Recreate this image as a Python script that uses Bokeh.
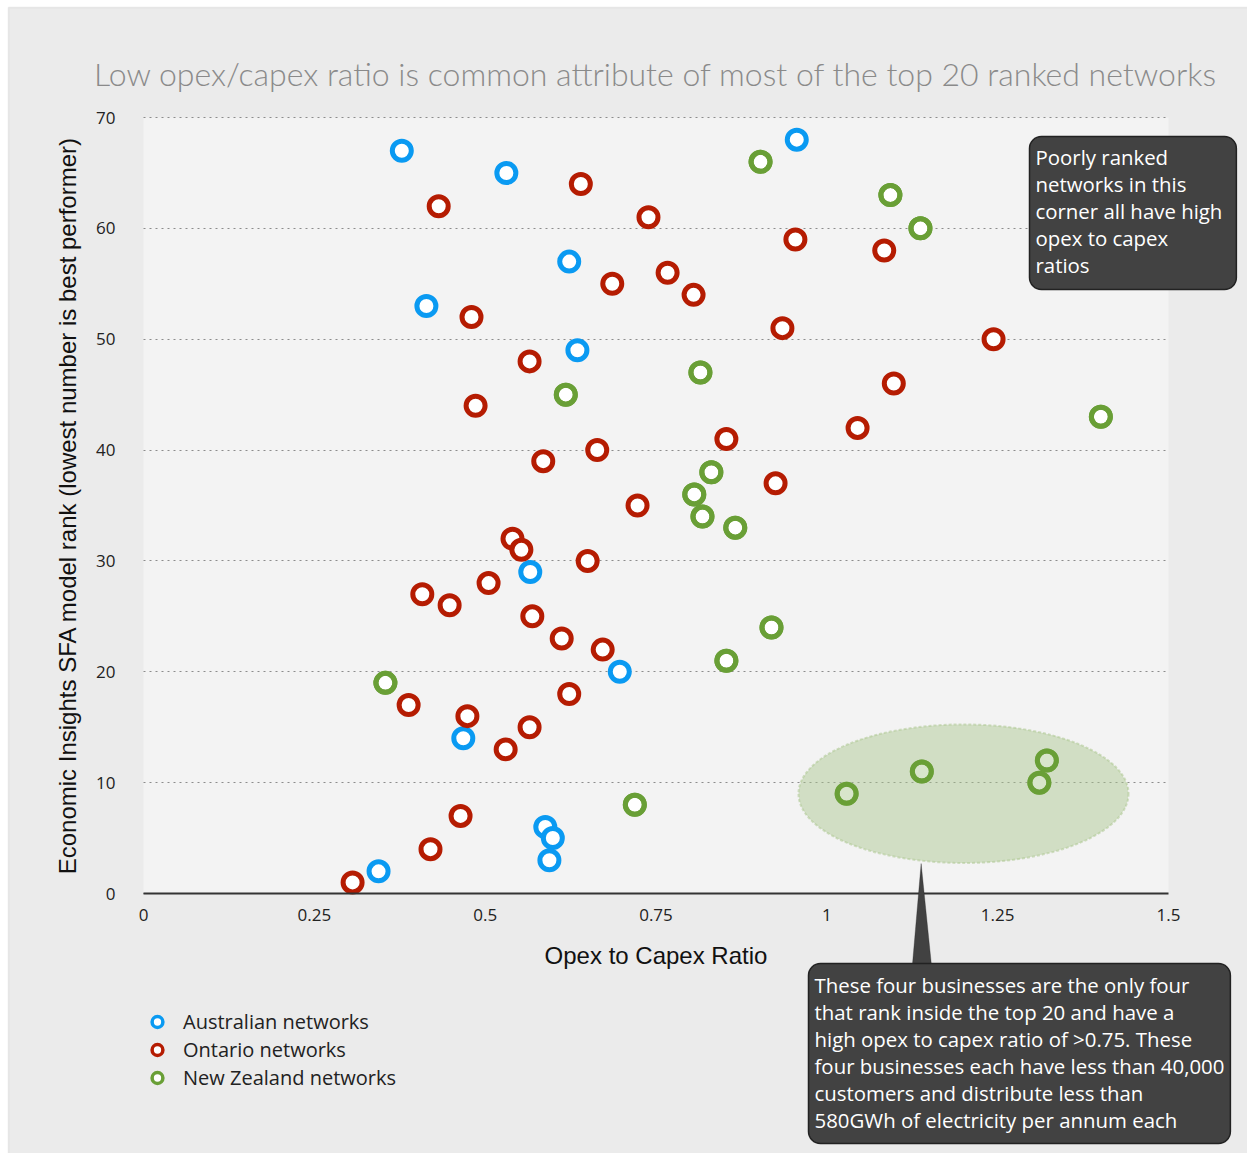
from bokeh.plotting import figure
from bokeh.models import (Range1d, FixedTicker, Label, PolyAnnotation, Legend, LegendItem,
                          BoxAnnotation)
from bokeh.embed import file_html
from bokeh.resources import INLINE

# ---------------- data ----------------
title_text = "Low opex/capex ratio is common attribute of most of the top 20 ranked networks"
x_label = "Opex to Capex Ratio"
y_label = "Economic Insights SFA model rank (lowest number is best performer)"

series_names = ["Australian networks", "Ontario networks", "New Zealand networks"]

aus_x = [0.378, 0.531, 0.623, 0.414, 0.635, 0.566, 0.697, 0.468, 0.588, 0.599, 0.594, 0.344, 0.956]
aus_y = [67, 65, 57, 53, 49, 29, 20, 14, 6, 5, 3, 2, 68]

ont_x = [0.640, 0.432, 0.739, 0.954, 1.084, 0.767, 0.686, 0.805, 0.480, 0.935, 1.244, 0.565,
         1.098, 0.486, 1.045, 0.853, 0.664, 0.585, 0.925, 0.723, 0.540, 0.553, 0.650, 0.505,
         0.408, 0.448, 0.569, 0.612, 0.672, 0.623, 0.388, 0.474, 0.565, 0.530, 0.464, 0.420, 0.306]
ont_y = [64, 62, 61, 59, 58, 56, 55, 54, 52, 51, 50, 48, 46, 44, 42, 41, 40, 39, 37, 35, 32, 31,
         30, 28, 27, 26, 25, 23, 22, 18, 17, 16, 15, 13, 7, 4, 1]

nz_x = [0.903, 1.093, 1.137, 0.815, 0.618, 1.401, 0.831, 0.806, 0.818, 0.866, 0.919, 0.853,
        0.354, 1.139, 1.322, 1.311, 1.029, 0.719]
nz_y = [66, 63, 60, 47, 45, 43, 38, 36, 34, 33, 24, 21, 19, 11, 12, 10, 9, 8]

x_ticks = [0, 0.25, 0.5, 0.75, 1, 1.25, 1.5]
x_tick_labels = ["0", "0.25", "0.5", "0.75", "1", "1.25", "1.5"]
y_ticks = [0, 10, 20, 30, 40, 50, 60, 70]
X_MIN, X_MAX = 0, 1.5
Y_MIN, Y_MAX = 0, 70

# highlighted group (ellipse) and callouts
highlight_center = (1.2, 9.0)
highlight_size = (0.483, 12.5)
callout_top_text = "Poorly ranked\nnetworks in this\ncorner all have high\nopex to capex\nratios"
callout_bottom_text = ("These four businesses are the only four\nthat rank inside the top 20 and have a\n"
                       "high opex to capex ratio of >0.75. These\nfour businesses each have less than 40,000\n"
                       "customers and distribute less than\n580GWh of electricity per annum each")

# ---------------- layout (pixels) ----------------
W, H = 1247, 1153
PA_LEFT, PA_RIGHT, PA_TOP, PA_BOTTOM = 143, 1168, 117, 893   # plot area in page pixels
sx = (X_MAX - X_MIN) / (PA_RIGHT - PA_LEFT)    # data per px
sy = (Y_MAX - Y_MIN) / (PA_BOTTOM - PA_TOP)


def dx(px):
    return X_MIN + (px - PA_LEFT) * sx


def dy(py):
    return Y_MIN + (PA_BOTTOM - py) * sy


COL_AUS = "#0a9af2"
COL_ONT = "#b51c02"
COL_NZ = "#699f36"
BODY_FONT = "Open Sans"

p = figure(width=W, height=H,
           x_range=Range1d(dx(0), dx(W)), y_range=Range1d(dy(H), dy(0)),
           output_backend="svg", toolbar_location=None,
           min_border_left=0, min_border_right=0, min_border_top=0, min_border_bottom=0,
           background_fill_color="white", border_fill_color="white",
           outline_line_color=None)

# slide background and plot area
p.add_layout(BoxAnnotation(left=dx(8), top=dy(7), right=dx(W + 10), bottom=dy(H + 10),
                           fill_color="#ebebeb", fill_alpha=1,
                           line_color="#c4c4c4", line_width=1.5, level="image"))
p.add_layout(BoxAnnotation(left=X_MIN, right=X_MAX, bottom=Y_MIN, top=Y_MAX,
                           fill_color="#f3f3f3", fill_alpha=1, line_color=None, level="image"))

# title
p.add_layout(Label(x=(X_MIN + X_MAX) / 2, y=dy(73), text=title_text, text_align="center",
                   text_baseline="alphabetic", text_font="Lato Light", text_font_size="32px",
                   text_color="#8a8a8a"))

# axes, fixed at the data origin
p.xaxis.fixed_location = Y_MIN
p.xaxis.bounds = (X_MIN, X_MAX)
p.xaxis.ticker = FixedTicker(ticks=x_ticks)
p.xaxis.major_label_overrides = {t: l for t, l in zip(x_ticks, x_tick_labels)}
p.xaxis.axis_line_width = 2
p.xaxis.axis_line_color = "#333333"
p.xaxis.major_tick_line_color = None
p.xaxis.minor_tick_line_color = None
p.xaxis.major_label_standoff = 9
p.xaxis.major_label_text_font = BODY_FONT
p.xaxis.major_label_text_font_size = "17px"
p.xaxis.major_label_text_color = "#222222"
p.xaxis.axis_label = x_label
p.xaxis.axis_label_text_font = "Liberation Sans"
p.xaxis.axis_label_text_font_style = "normal"
p.xaxis.axis_label_text_font_size = "24px"
p.xaxis.axis_label_text_color = "#111111"
p.xaxis.axis_label_standoff = 18

p.yaxis.fixed_location = X_MIN
p.yaxis.bounds = (Y_MIN, Y_MAX)
p.yaxis.ticker = FixedTicker(ticks=y_ticks)
p.yaxis.axis_line_color = None
p.yaxis.major_tick_line_color = None
p.yaxis.minor_tick_line_color = None
p.yaxis.major_label_standoff = 22
p.yaxis.major_label_text_font = BODY_FONT
p.yaxis.major_label_text_font_size = "17px"
p.yaxis.major_label_text_color = "#222222"
p.yaxis.axis_label = y_label
p.yaxis.axis_label_text_font = "Liberation Sans"
p.yaxis.axis_label_text_font_style = "normal"
p.yaxis.axis_label_text_font_size = "24px"
p.yaxis.axis_label_text_color = "#111111"
p.yaxis.axis_label_standoff = 12

p.xgrid.visible = False
p.ygrid.grid_line_color = "#8c8c8c"
p.ygrid.grid_line_dash = "2 4"
p.ygrid.grid_line_width = 1.2
for g in p.ygrid:
    if "cross_bounds" in g.properties():
        g.cross_bounds = (X_MIN, X_MAX)

# ---------------- points ----------------
MS = 19
LW = 5
p.scatter(aus_x, aus_y, size=MS, line_width=LW, line_color=COL_AUS, fill_color="white")
p.scatter(ont_x, ont_y, size=MS, line_width=LW, line_color=COL_ONT, fill_color="white")
p.scatter(nz_x, nz_y, size=MS, line_width=LW, line_color=COL_NZ, fill_color="white")

# translucent highlight ellipse over the group, rings redrawn on top
p.ellipse(x=[highlight_center[0]], y=[highlight_center[1]],
          width=[highlight_size[0]], height=[highlight_size[1]],
          fill_color="#a9c58b", fill_alpha=0.45, line_color="#a9c58b", line_alpha=0.5,
          line_dash="3 2", line_width=2)
p.scatter(nz_x, nz_y, size=MS, line_width=LW, line_color=COL_NZ, fill_alpha=0)

# legend-only renderers (thinner rings)
leg_rs = []
for xs, ys, c in [(aus_x, aus_y, COL_AUS), (ont_x, ont_y, COL_ONT), (nz_x, nz_y, COL_NZ)]:
    r = p.scatter(xs, ys, size=MS, line_width=3.5, line_color=c, fill_color="white", visible=False)
    leg_rs.append(r)

legend = Legend(items=[LegendItem(label=n, renderers=[r]) for n, r in zip(series_names, leg_rs)],
                location=(143, H - 1091), orientation="vertical",
                background_fill_alpha=0, border_line_color=None,
                glyph_width=28, glyph_height=27, label_height=24, spacing=1,
                label_standoff=12, padding=0, margin=0,
                label_text_font=BODY_FONT, label_text_font_size="20px", label_text_color="#222222")
p.add_layout(legend, "center")

# ---------------- callouts ----------------
hx, hy = highlight_center
hh = highlight_size[1]
pointer = PolyAnnotation(xs=[dx(911), dx(932), hx - 0.062],
                         ys=[dy(975), dy(975), hy - hh / 2 - 0.05],
                         fill_color="#424242", fill_alpha=1, line_color="#222222", line_width=1)
p.add_layout(pointer)

box_style = dict(text_align="left", text_baseline="top", text_color="white",
                 text_font=BODY_FONT, text_font_size="20.4px", text_line_height=0.965,
                 background_fill_color="#424242", border_line_color="#222222",
                 border_line_width=1.5, border_radius=12)

# padding order: (left, right, top, bottom); label anchor is the box's top-left corner
p.add_layout(Label(x=dx(1029), y=dy(136), text=callout_top_text,
                   padding=(6, 14, 6, 11), **box_style))
p.add_layout(Label(x=dx(808), y=dy(963), text=callout_bottom_text,
                   padding=(6, 6, 7, 10), **box_style))

open("out.html", "w").write(file_html(p, INLINE))
